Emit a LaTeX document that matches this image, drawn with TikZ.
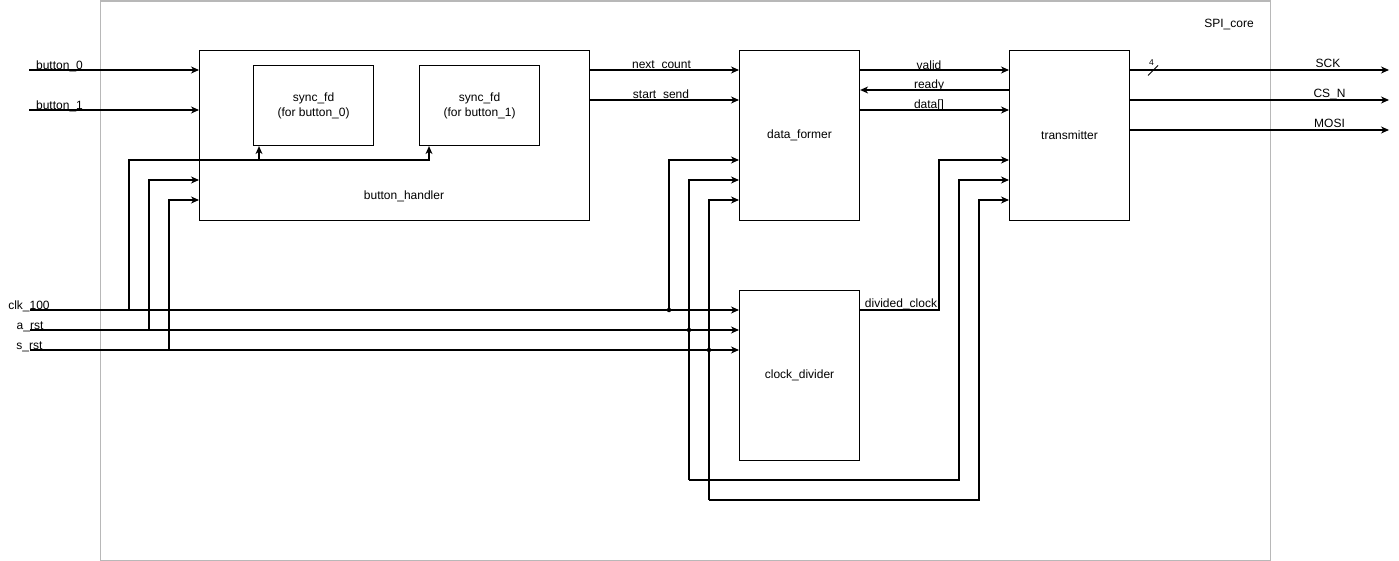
\documentclass[tikz,border=0pt]{standalone}
\usepackage{fontspec}
\setmainfont{Liberation Sans}
\usetikzlibrary{arrows.meta,calc}
\begin{document}
\begin{tikzpicture}[x=1pt,y=-1pt,
  font=\fontsize{12}{15}\selectfont,
  block/.style={draw, line width=1.1pt, inner sep=0pt, anchor=north west,
                minimum width=120pt, minimum height=170pt},
  wire/.style={line width=1.1pt},
  sig/.style={wire, -{Stealth[length=8pt,width=7pt,inset=2.5pt]}},
  lbl/.style={inner sep=0pt, anchor=base},
  jn/.style={circle, fill, inner sep=0pt, minimum size=4.5pt}]
\useasboundingbox (0,0) rectangle (1399,561);

% enclosing core
\node[draw=black!28, line width=1.1pt, inner sep=0pt, anchor=north west,
      minimum width=1170pt, minimum height=559pt] (core) at (99.5,0.5) {};
\node[lbl] (corelbl) at (1229,28) {SPI\_core};

% blocks
\node[block, minimum width=390pt] (bh) at (199,50) {};
\node (bhlbl) at (404,196.5) {button\_handler};
\node[block, minimum height=80pt, align=center] (sf0) at (253,65) {sync\_fd\\(for button\_0)};
\node[block, minimum height=80pt, align=center] (sf1) at (419,65) {sync\_fd\\(for button\_1)};
\node[block] (df) at (739,50) {data\_former};
\node[block] (cd) at (739,290) {clock\_divider};
\node[block] (tr) at (1009,50) {transmitter};

% ports and routing points
\coordinate (b0) at (29,70);
\coordinate (b1) at (29,110);
\coordinate (clk) at (30,310);
\coordinate (arst) at (30,330);
\coordinate (srst) at (30,350);
\coordinate (r90) at (0,90);
\coordinate (r100) at (0,100);
\coordinate (r130) at (0,130);
\coordinate (ck1) at (129,160);
\coordinate (t0) at (259,160);
\coordinate (t1) at (429,160);
\coordinate (ar1) at (149,180);
\coordinate (sr1) at (169,200);
\coordinate (j1) at (669,310);
\coordinate (j2) at (689,330);
\coordinate (j3) at (709,350);
\coordinate (lowA) at (689,480);
\coordinate (lowB) at (709,500);
\coordinate (tA) at (959,480);
\coordinate (tB) at (979,500);
\coordinate (dc) at (939,160);
\coordinate (oSCK) at (1389,70);
\coordinate (oCS) at (1389,100);
\coordinate (oMOSI) at (1389,130);

% external inputs
\draw[sig] (b0) -- (b0 -| bh.west);
\draw[sig] (b1) -- (b1 -| bh.west);
\node[lbl] (lb0) at (59.5,69.5) {button\_0};
\node[lbl] (lb1) at (59.5,109.5) {button\_1};
\node[lbl] (lclk) at (29,309.5) {clk\_100};
\node[lbl] (larst) at (30,329.5) {a\_rst};
\node[lbl] (lsrst) at (29.5,349.5) {s\_rst};

% clock, resets into button_handler
\draw[sig] (clk) -| (ck1) -- (t1) -- (t1 |- sf1.south);
\draw[sig] (t0) -- (t0 |- sf0.south);
\draw[sig] (arst) -| (ar1) -- (ar1 -| bh.west);
\draw[sig] (srst) -| (sr1) -- (sr1 -| bh.west);

% clock, resets into clock_divider
\draw[sig] (clk) -- (clk -| cd.west);
\draw[sig] (arst) -- (arst -| cd.west);
\draw[sig] (srst) -- (srst -| cd.west);

% clock, resets into data_former and transmitter
\draw[sig] (j1) |- ($(df.north west)+(0,110)$);
\draw[sig] (lowA) -- (j2) |- ($(df.north west)+(0,130)$);
\draw[sig] (lowB) -- (j3) |- ($(df.north west)+(0,150)$);
\draw[sig] (lowA) -- (tA) |- ($(tr.north west)+(0,130)$);
\draw[sig] (lowB) -- (tB) |- ($(tr.north west)+(0,150)$);
\node[jn] at (j1) {};
\node[jn] at (j2) {};
\node[jn] at (j3) {};

% divided clock
\draw[sig] (cd.east |- j1) -| (dc) -- (dc -| tr.west);
\node[lbl] (ldc) at (901,307.5) {divided\_clock};

% button_handler -> data_former
\draw[sig] (bh.east |- b0) -- (df.west |- b0);
\draw[sig] (bh.east |- r100) -- (df.west |- r100);
\node[lbl] (lnc) at (661.5,68.5) {next\_count};
\node[lbl] (lss) at (661,98.5) {start\_send};

% data_former <-> transmitter
\draw[sig] (df.east |- b0) -- (tr.west |- b0);
\draw[sig] (tr.west |- r90) -- (df.east |- r90);
\draw[sig] (df.east |- b1) -- (tr.west |- b1);
\node[lbl] (lvalid) at (929,69.5) {valid};
\node[lbl] (lready) at (929,89) {ready};
\node[lbl] (ldata) at (929,109) {data[]};

% outputs
\draw[sig] (tr.east |- oSCK) -- (oSCK);
\draw[sig] (tr.east |- oCS) -- (oCS);
\draw[sig] (tr.east |- oMOSI) -- (oMOSI);
\draw[line width=0.8pt] (1148,75.5) -- (1158,65.5);
\node[inner sep=0pt, font=\fontsize{8.5}{9}\selectfont] (lbus) at (1151.5,63) {4};
\node[lbl] (lsck) at (1328,68) {SCK};
\node[lbl] (lcs) at (1329.5,98) {CS\_N};
\node[lbl] (lmosi) at (1329.5,128) {MOSI};
\end{tikzpicture}
\end{document}
